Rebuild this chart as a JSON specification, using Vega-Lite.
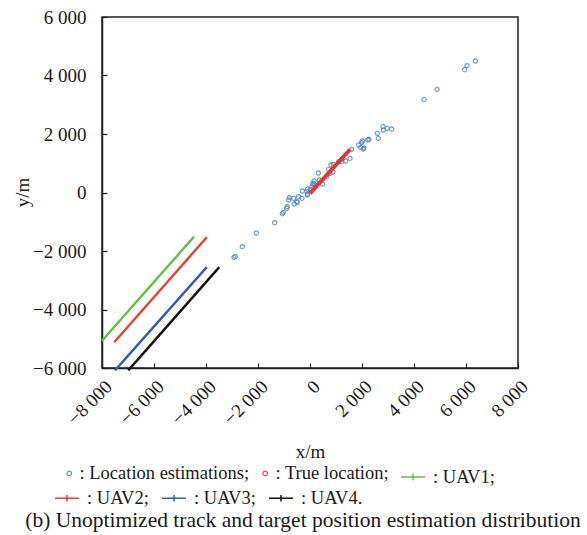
{
  "$schema": "https://vega.github.io/schema/vega-lite/v6.json",
  "width": 416,
  "height": 351,
  "autosize": "none",
  "padding": {"left": 102, "top": 17, "right": 69, "bottom": 167},
  "background": "white",
  "config": {
    "font": "Liberation Serif",
    "view": {"stroke": "#222222", "strokeWidth": 1.5},
    "axis": {
      "grid": false,
      "labelFont": "Liberation Serif",
      "labelFontSize": 19,
      "labelColor": "#1a1a1a",
      "titleFont": "Liberation Serif",
      "titleFontSize": 19,
      "titleFontWeight": "normal",
      "titleColor": "#1a1a1a",
      "domainColor": "#222222",
      "domainWidth": 1.5,
      "tickColor": "#222222",
      "tickWidth": 1.2,
      "tickSize": -5
    },
    "legend": {
      "labelFont": "Liberation Serif",
      "labelFontSize": 18.5,
      "labelColor": "#1a1a1a",
      "labelLimit": 0,
      "padding": 0
    }
  },
  "title": {
    "text": "(b) Unoptimized track and target position estimation distribution",
    "orient": "bottom",
    "anchor": "middle",
    "frame": "group",
    "font": "Liberation Serif",
    "fontSize": 21.5,
    "fontWeight": "normal",
    "color": "#1a1a1a",
    "offset": 2,
    "dx": -7
  },
  "data": {
    "values": [
      {"series": ": Location estimations;", "x": 6358, "y": 4496},
      {"series": ": Location estimations;", "x": 6038, "y": 4335},
      {"series": ": Location estimations;", "x": 5950, "y": 4198},
      {"series": ": Location estimations;", "x": 4885, "y": 3528},
      {"series": ": Location estimations;", "x": 4385, "y": 3173},
      {"series": ": Location estimations;", "x": 2808, "y": 2250},
      {"series": ": Location estimations;", "x": 2820, "y": 2137},
      {"series": ": Location estimations;", "x": 2962, "y": 2195},
      {"series": ": Location estimations;", "x": 3142, "y": 2171},
      {"series": ": Location estimations;", "x": 2588, "y": 2024},
      {"series": ": Location estimations;", "x": 2627, "y": 1853},
      {"series": ": Location estimations;", "x": 2269, "y": 1819},
      {"series": ": Location estimations;", "x": 2219, "y": 1795},
      {"series": ": Location estimations;", "x": 2011, "y": 1760},
      {"series": ": Location estimations;", "x": 1988, "y": 1702},
      {"series": ": Location estimations;", "x": 1873, "y": 1624},
      {"series": ": Location estimations;", "x": 1950, "y": 1545},
      {"series": ": Location estimations;", "x": 2050, "y": 1487},
      {"series": ": Location estimations;", "x": 2077, "y": 1521},
      {"series": ": Location estimations;", "x": 1603, "y": 1477},
      {"series": ": Location estimations;", "x": 1538, "y": 1169},
      {"series": ": Location estimations;", "x": 1373, "y": 1077},
      {"series": ": Location estimations;", "x": 1219, "y": 1053},
      {"series": ": Location estimations;", "x": 1219, "y": 1135},
      {"series": ": Location estimations;", "x": 1104, "y": 1053},
      {"series": ": Location estimations;", "x": 896, "y": 964},
      {"series": ": Location estimations;", "x": 807, "y": 940},
      {"series": ": Location estimations;", "x": 719, "y": 793},
      {"series": ": Location estimations;", "x": 884, "y": 701},
      {"series": ": Location estimations;", "x": 769, "y": 656},
      {"series": ": Location estimations;", "x": 319, "y": 667},
      {"series": ": Location estimations;", "x": 642, "y": 540},
      {"series": ": Location estimations;", "x": 358, "y": 427},
      {"series": ": Location estimations;", "x": 488, "y": 290},
      {"series": ": Location estimations;", "x": 154, "y": 393},
      {"series": ": Location estimations;", "x": 115, "y": 314},
      {"series": ": Location estimations;", "x": 165, "y": 267},
      {"series": ": Location estimations;", "x": 127, "y": 290},
      {"series": ": Location estimations;", "x": 76, "y": 198},
      {"series": ": Location estimations;", "x": 27, "y": 109},
      {"series": ": Location estimations;", "x": -89, "y": 119},
      {"series": ": Location estimations;", "x": -127, "y": 41},
      {"series": ": Location estimations;", "x": -296, "y": 51},
      {"series": ": Location estimations;", "x": -104, "y": -86},
      {"series": ": Location estimations;", "x": -89, "y": -51},
      {"series": ": Location estimations;", "x": -435, "y": -144},
      {"series": ": Location estimations;", "x": -308, "y": -199},
      {"series": ": Location estimations;", "x": -627, "y": -199},
      {"series": ": Location estimations;", "x": -796, "y": -178},
      {"series": ": Location estimations;", "x": -819, "y": -257},
      {"series": ": Location estimations;", "x": -489, "y": -335},
      {"series": ": Location estimations;", "x": -512, "y": -315},
      {"series": ": Location estimations;", "x": -604, "y": -394},
      {"series": ": Location estimations;", "x": -873, "y": -486},
      {"series": ": Location estimations;", "x": -896, "y": -540},
      {"series": ": Location estimations;", "x": -1027, "y": -677},
      {"series": ": Location estimations;", "x": -1065, "y": -725},
      {"series": ": Location estimations;", "x": -1358, "y": -1033},
      {"series": ": Location estimations;", "x": -2066, "y": -1385},
      {"series": ": Location estimations;", "x": -2604, "y": -1853},
      {"series": ": Location estimations;", "x": -2873, "y": -2182},
      {"series": ": Location estimations;", "x": -2923, "y": -2216},
      {"series": ": True location;", "x": 0, "y": -30},
      {"series": ": True location;", "x": 1540, "y": 1470},
      {"series": ": UAV1;", "x": -8000, "y": -5070},
      {"series": ": UAV1;", "x": -4460, "y": -1510},
      {"series": ": UAV2;", "x": -7530, "y": -5120},
      {"series": ": UAV2;", "x": -3970, "y": -1530},
      {"series": ": UAV3;", "x": -7500, "y": -6080},
      {"series": ": UAV3;", "x": -3970, "y": -2550},
      {"series": ": UAV4.", "x": -6990, "y": -6080},
      {"series": ": UAV4.", "x": -3490, "y": -2550}
    ]
  },
  "encoding": {
    "x": {
      "field": "x",
      "type": "quantitative",
      "scale": {"domain": [-8000, 8000], "nice": false, "zero": false},
      "title": "x/m",
      "axis": {
        "values": [-8000, -6000, -4000, -2000, 0, 2000, 4000, 6000, 8000],
        "labelExpr": "(datum.value < 0 ? '−' : '') + replace(format(abs(datum.value), ','), ',', ' ')",
        "labelAngle": -45,
        "labelAlign": "right",
        "labelBaseline": "top",
        "labelPadding": 14,
        "labelFlush": false,
        "labelOverlap": false,
        "titleY": 83,
        "titleBaseline": "middle"
      }
    },
    "y": {
      "field": "y",
      "type": "quantitative",
      "scale": {"domain": [-6000, 6000], "nice": false, "zero": false},
      "title": "y/m",
      "axis": {
        "values": [-6000, -4000, -2000, 0, 2000, 4000, 6000],
        "labelExpr": "(datum.value < 0 ? '−' : '') + replace(format(abs(datum.value), ','), ',', ' ')",
        "labelPadding": 21,
        "labelFlush": false,
        "labelOverlap": false,
        "titleX": -80,
        "titleY": 175,
        "titleAngle": -90,
        "titleAlign": "center",
        "titleBaseline": "middle"
      }
    }
  },
  "layer": [
    {
      "encoding": {
        "color": {
          "field": "series",
          "type": "nominal",
          "scale": {
            "domain": [": Location estimations;", ": True location;"],
            "range": ["#4f86c6", "#e5372b"]
          },
          "legend": {
            "orient": "none",
            "legendX": -42,
            "legendY": 447,
            "direction": "horizontal",
            "title": null,
            "labelFont": "Liberation Serif",
            "symbolType": "circle",
            "symbolSize": 22,
            "symbolStrokeWidth": 1.2,
            "symbolFillColor": "transparent",
            "labelOffset": 1,
            "columnPadding": 6
          }
        }
      },
      "layer": [
        {
          "transform": [{"filter": "datum.series === ': Location estimations;'"}],
          "mark": {"type": "point", "shape": "circle", "filled": false, "size": 18, "strokeWidth": 1.1, "opacity": 0.85}
        },
        {
          "transform": [{"filter": "datum.series === ': True location;'"}],
          "mark": {"type": "line", "strokeWidth": 4, "strokeCap": "butt"}
        }
      ]
    },
    {
      "transform": [{"filter": "datum.series === ': UAV1;'"}],
      "mark": {"type": "line", "strokeWidth": 2.4},
      "encoding": {
        "color": {
          "field": "series",
          "type": "nominal",
          "scale": {"domain": [": UAV1;"], "range": ["#66bf45"]},
          "legend": {
            "orient": "none",
            "legendX": 298,
            "legendY": 447,
            "direction": "horizontal",
            "title": null,
            "labelFont": "Liberation Serif",
            "symbolType": "M-1,0H1M0,-0.28V0.28",
            "symbolSize": 576,
            "symbolStrokeWidth": 1.5,
            "labelOffset": 7
          }
        }
      }
    },
    {
      "transform": [{"filter": "indexof([': UAV2;', ': UAV3;', ': UAV4.'], datum.series) >= 0"}],
      "mark": {"type": "line", "strokeWidth": 2.4},
      "encoding": {
        "color": {
          "field": "series",
          "type": "nominal",
          "scale": {"domain": [": UAV2;", ": UAV3;", ": UAV4."], "range": ["#e8412f", "#3a5db0", "#111111"]},
          "legend": {
            "orient": "none",
            "legendX": -48,
            "legendY": 468,
            "direction": "horizontal",
            "title": null,
            "labelFont": "Liberation Serif",
            "symbolType": "M-1,0H1M0,-0.28V0.28",
            "symbolSize": 576,
            "symbolStrokeWidth": 1.5,
            "labelOffset": 7,
            "columnPadding": 10
          }
        }
      }
    }
  ],
  "resolve": {"scale": {"color": "independent"}}
}
